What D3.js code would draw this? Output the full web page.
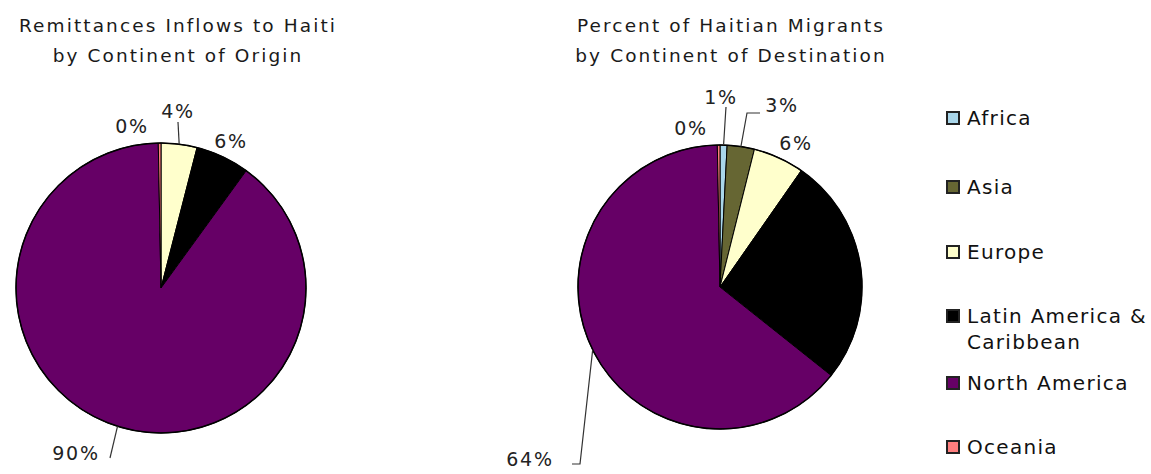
<!DOCTYPE html>
<html><head><meta charset="utf-8">
<script src="https://cdn.jsdelivr.net/npm/d3@7"></script>
<style>body{margin:0;background:#fff;} text{font-family:"DejaVu Sans",Verdana,sans-serif;}</style>
</head><body>
<svg id="c" width="1151" height="474"></svg>
<script>
const categories = ["Africa","Asia","Europe","Latin America & Caribbean","North America","Oceania"];
const colors = ["#a9d6ea","#666633","#ffffcc","#000000","#660066","#ff7f7f"];
const remittances = [0, 0, 4.0, 6.0, 89.7, 0.3];
const remitLabels = [null, null, "4%", "6%", "90%", "0%"];
const migrants = [0.8, 3.1, 5.8, 26.0, 64.0, 0.3];
const migrantLabels = ["1%", "3%", "6%", null, "64%", "0%"];
const titles = [["Remittances Inflows to Haiti","by Continent of Origin"],["Percent of Haitian Migrants","by Continent of Destination"]];

const svg = d3.select("#c");
const pie = d3.pie().sort(null).value(d=>d);

function drawPie(vals, labels, cx, cy, r, titleLines, tx, labelPos){
  const g = svg.append("g").attr("transform",`translate(${cx},${cy})`);
  const arcs = pie(vals);
  const arc = d3.arc().innerRadius(0).outerRadius(r);
  g.selectAll("path").data(arcs).join("path")
    .attr("d",arc).attr("fill",(d,i)=>colors[i])
    .attr("stroke","#000").attr("stroke-width",1);
  g.append("circle").attr("r",r).attr("fill","none").attr("stroke","#000").attr("stroke-width",1.5);
  arcs.forEach((a,i)=>{
    if(!labels[i]) return;
    const p = labelPos[i];
    g.append("text").attr("x",p.x-cx).attr("y",p.y-cy).attr("text-anchor","middle")
      .attr("dominant-baseline","central").attr("font-size",19).attr("letter-spacing",1.8)
      .attr("fill","#222").text(labels[i]);
    if(p.line){
      const m = (a.startAngle+a.endAngle)/2;
      const ex = Math.sin(m)*r, ey = -Math.cos(m)*r;
      g.append("path").attr("d","M"+[ex,ey]+"L"+p.line.map(q=>[q[0]-cx,q[1]-cy]).join("L"))
        .attr("fill","none").attr("stroke","#333").attr("stroke-width",1.2);
    }
  });
  titleLines.forEach((t,k)=>{
    svg.append("text").attr("x",tx).attr("y",32+k*30).attr("text-anchor","middle")
      .attr("font-size",18.5).attr("letter-spacing",2.1).attr("fill","#1a1a1a").text(t);
  });
}

drawPie(remittances, remitLabels, 161, 288, 145, titles[0], 178, {
  2:{x:178,y:111,line:[[178,122]]},
  3:{x:231,y:141},
  4:{x:76,y:453,line:[[110,458]]},
  5:{x:132,y:126}
});
drawPie(migrants, migrantLabels, 720, 287, 142, titles[1], 731, {
  0:{x:721,y:97,line:[[726,107]]},
  1:{x:782,y:105,line:[[747,113],[760,113]]},
  2:{x:796,y:143},
  4:{x:530,y:459,line:[[580,464],[572,464]]},
  5:{x:691,y:128}
});

const legendY = [118,187,252,316,383,447];
const lg = svg.append("g");
categories.forEach((c,i)=>{
  lg.append("rect").attr("x",947).attr("y",legendY[i]-6).attr("width",12).attr("height",12)
    .attr("fill",colors[i]).attr("stroke","#222").attr("stroke-width",2);
  const lines = c === "Latin America & Caribbean" ? ["Latin America &","Caribbean"] : [c];
  lines.forEach((l,k)=>{
    lg.append("text").attr("x",967).attr("y",legendY[i]+7+k*26).attr("font-size",20)
      .attr("letter-spacing",1.3).attr("fill","#111").text(l);
  });
});
</script>
</body></html>
